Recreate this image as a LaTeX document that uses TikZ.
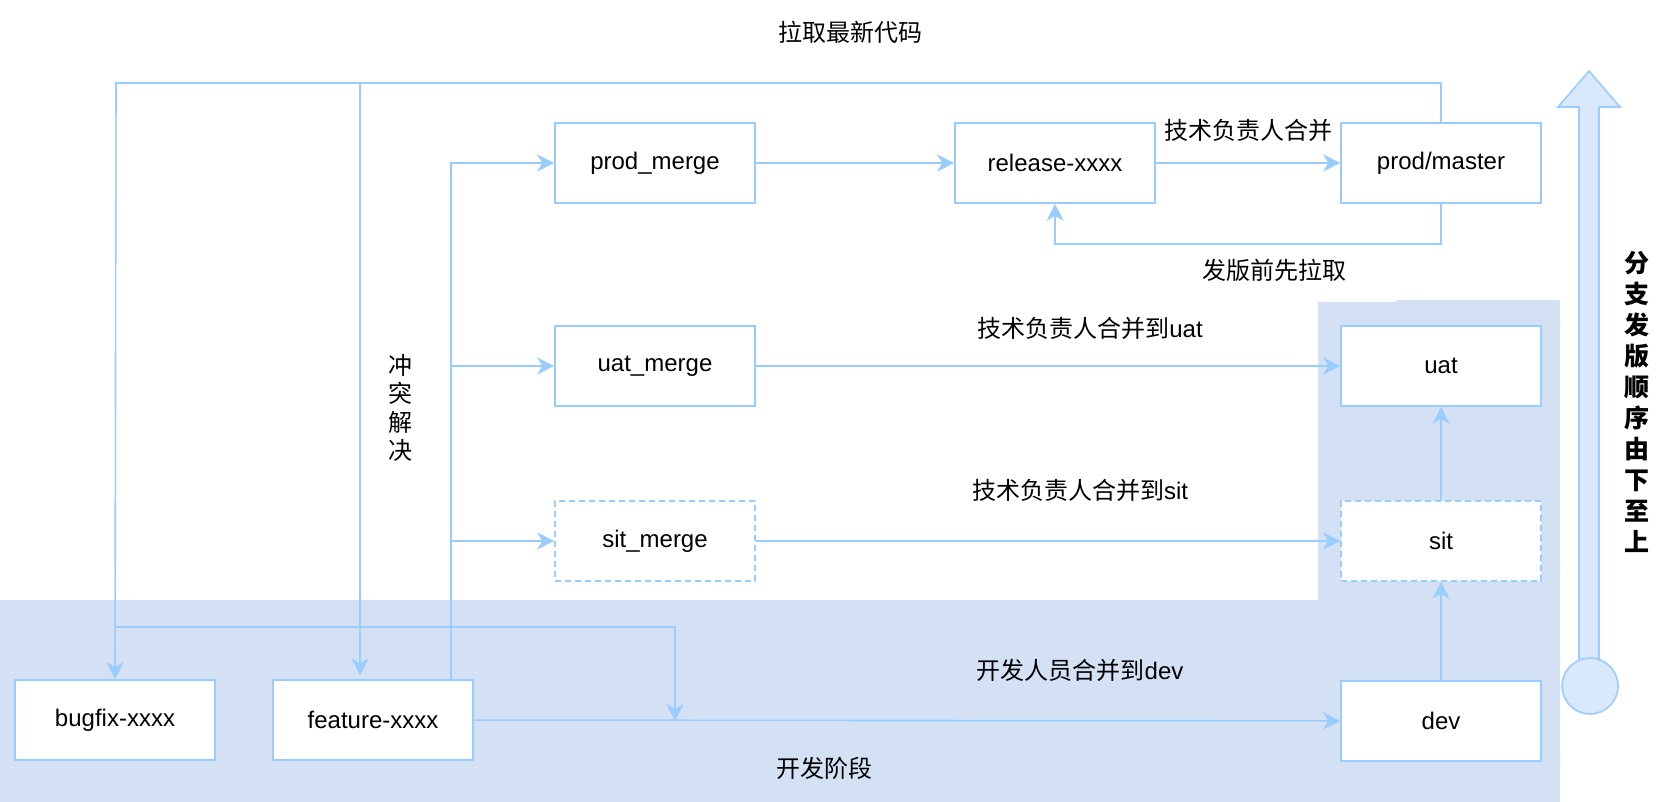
\documentclass[tikz,border=0pt]{standalone}
\usepackage{fontspec}
\setmainfont{Liberation Sans}
\newfontfamily\cjk{Noto Sans CJK SC}
\usepackage{tikz}
\usetikzlibrary{arrows.meta}
\usepackage{xcolor}
\definecolor{lineblue}{HTML}{99CCFF}
\definecolor{stageblue}{HTML}{D4E1F5}
\definecolor{arrowblue}{HTML}{DAE8FC}

\begin{document}
\begin{tikzpicture}[x=1pt,y=-1pt,
  gitbox/.style={draw=lineblue,line width=1.6pt,fill=white,minimum width=200pt,minimum height=80pt,inner sep=0pt,font=\fontsize{24}{28}\selectfont},
  testbox/.style={gitbox,dash pattern=on 6pt off 4pt},
  wire/.style={lineblue,line width=1.6pt},
  link/.style={wire,-{Stealth[length=17pt,width=17pt,inset=5pt]}},
  note/.style={inner sep=0pt,font=\cjk\fontsize{24}{28.5}\selectfont}]
 \useasboundingbox (0,0) rectangle (1662,802);

 % stage background
 \fill[stageblue] (0,600) -- (1318,600) -- (1318,302) -- (1396,302) -- (1396,300)
   -- (1560,300) -- (1560,802) -- (0,802) -- cycle;

 % branches
 \node[gitbox] (bugfix) at (115,720) {bugfix-xxxx};
 \node[gitbox] (feature) at (373,720) {feature-xxxx};
 \node[gitbox] (dev) at (1441,721) {dev};
 \node[testbox] (sit) at (1441,541) {sit};
 \node[gitbox] (uat) at (1441,366) {uat};
 \node[gitbox] (master) at (1441,163) {prod/master};
 \node[gitbox] (release) at (1055,163) {release-xxxx};
 \node[gitbox] (prodmerge) at (655,163) {prod\_merge};
 \node[gitbox] (uatmerge) at (655,366) {uat\_merge};
 \node[testbox] (sitmerge) at (655,541) {sit\_merge};

 \coordinate (topleft) at (116,83);
 \coordinate (topfeat) at (360,83);
 \coordinate (bugjoin) at (116,627);
 \coordinate (devjoin) at (675,721);

 % pull latest code
 \draw[link] (master.north) |- (topleft) -- (bugfix.north);
 \draw[link] (topfeat) -- ([xshift=-13pt,yshift=4pt]feature.north);
 \draw[link] (bugjoin) -| (devjoin);

 % feature to merge branches
 \draw[link] ([xshift=78pt]feature.north) |- (prodmerge.west);
 \draw[link] ([xshift=78pt]feature.north) |- (uatmerge.west);
 \draw[link] ([xshift=78pt]feature.north) |- (sitmerge.west);

 \draw[link] (prodmerge) -- (release);
 \draw[link] (release) -- (master);
 \draw[link] (master.south) -- ++(0,40) -| (release.south);
 \draw[link] (uatmerge) -- (uat);
 \draw[link] (sitmerge) -- (sit);
 \draw[link] (feature) -- (dev);
 \draw[link] (dev) -- (sit);
 \draw[link] (sit) -- (uat);

 % labels
 \node[note] (lbtop) at (850,32) {拉取最新代码};
 \node[note] (lbmaster) at (1248,130) {技术负责人合并};
 \node[note] (lbpull) at (1274,270) {发版前先拉取};
 \node[note] (lbuat) at (1090,328) {技术负责人合并到\rmfamily uat};
 \node[note] (lbsit) at (1080,490) {技术负责人合并到\rmfamily sit};
 \node[note] (lbdev) at (1080,670) {开发人员合并到\rmfamily dev};
 \node[note] (lbstage) at (824,768) {开发阶段};
 \node[note,align=center] (lbconflict) at (400,408) {冲\\突\\解\\决};

 % order arrow
 \filldraw[fill=arrowblue,draw=lineblue,line width=1.6pt] (1579,660) -- (1579,107) -- (1558,107)
   -- (1589,71) -- (1620,107) -- (1599,107) -- (1599,660) -- cycle;
 \filldraw[fill=arrowblue,draw=lineblue,line width=1.6pt] (1590,686) circle (28);
 \node[note,align=center,font=\cjk\bfseries\fontsize{25}{31}\selectfont] (lborder) at (1637,402)
   {分\\支\\发\\版\\顺\\序\\由\\下\\至\\上};
\end{tikzpicture}
\end{document}
